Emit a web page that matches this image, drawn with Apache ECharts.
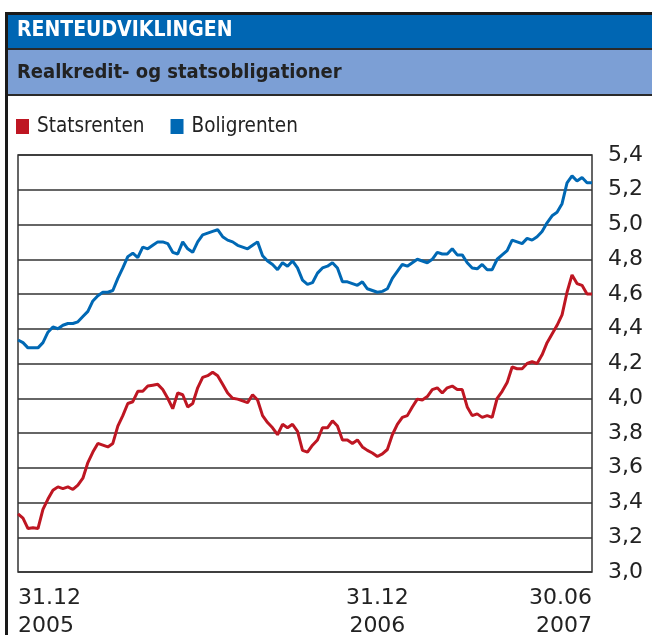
<!DOCTYPE html>
<html>
<head>
<meta charset="utf-8">
<script src="https://cdn.jsdelivr.net/npm/echarts@6/dist/echarts.min.js"></script>
<style>
  html, body { margin: 0; padding: 0; background: #fff; }
  #chart { width: 652px; height: 635px; }
</style>
</head>
<body>
<div id="chart"></div>
<script>
  // ── data (about one point per week) ──────────────────────────────
  const TITLE = 'RENTEUDVIKLINGEN';
  const SUBTITLE = 'Realkredit- og statsobligationer';
  const SERIES_NAMES = ['Statsrenten', 'Boligrenten'];

  const statsrenten = [
    3.335, 3.31, 3.25, 3.255, 3.25, 3.36, 3.42, 3.47, 3.49, 3.48,
    3.49, 3.475, 3.50, 3.54, 3.63, 3.69, 3.74, 3.73, 3.72, 3.74,
    3.84, 3.90, 3.97, 3.98, 4.04, 4.04, 4.07, 4.075, 4.08, 4.05,
    4.00, 3.94, 4.03, 4.02, 3.95, 3.97, 4.06, 4.12, 4.13, 4.15,
    4.13, 4.08, 4.03, 4.00, 3.995, 3.985, 3.975, 4.02, 3.99, 3.90,
    3.86, 3.83, 3.79, 3.85, 3.83, 3.85, 3.81, 3.70, 3.69,
    3.73, 3.76, 3.83, 3.83, 3.87, 3.84, 3.76, 3.76, 3.74, 3.76,
    3.72, 3.70, 3.685, 3.665, 3.68, 3.705, 3.79, 3.85, 3.89, 3.90,
    3.95, 3.995, 3.99, 4.01, 4.05, 4.06, 4.03, 4.06, 4.07,
    4.05, 4.05, 3.95, 3.90, 3.91, 3.89, 3.90, 3.89, 4.00, 4.04,
    4.09, 4.18, 4.17, 4.17, 4.20, 4.21, 4.20, 4.25, 4.32, 4.37,
    4.42, 4.48, 4.61, 4.71, 4.66, 4.65, 4.60, 4.60
  ];

  const boligrenten = [
    4.335, 4.32, 4.29, 4.29, 4.29, 4.32, 4.38, 4.41, 4.40, 4.42,
    4.43, 4.43, 4.44, 4.47, 4.50, 4.56, 4.59, 4.61, 4.61, 4.62,
    4.69, 4.75, 4.815, 4.835, 4.81, 4.87, 4.86, 4.88, 4.90, 4.90,
    4.89, 4.84, 4.83, 4.90, 4.86, 4.84, 4.90, 4.94, 4.95, 4.96,
    4.97, 4.93, 4.91, 4.90, 4.88, 4.87, 4.86, 4.88, 4.90, 4.82,
    4.79, 4.77, 4.74, 4.78, 4.76, 4.79, 4.75, 4.68, 4.655,
    4.665, 4.72, 4.75, 4.76, 4.78, 4.75, 4.67, 4.67, 4.66, 4.65,
    4.67, 4.63, 4.62, 4.61, 4.615, 4.63, 4.69, 4.73, 4.77, 4.76,
    4.78, 4.80, 4.79, 4.78, 4.80, 4.84, 4.83, 4.83, 4.86,
    4.825, 4.825, 4.78, 4.75, 4.745, 4.77, 4.74, 4.74, 4.80, 4.825,
    4.85, 4.91, 4.90, 4.89, 4.92, 4.91, 4.93, 4.96, 5.01, 5.05,
    5.07, 5.12, 5.24, 5.28, 5.25, 5.27, 5.24, 5.24
  ];

  const categories = statsrenten.map((_, i) => i);
  const X_TICK_IDX = [0, 72, 115];
  const X_TICK_TEXT = ['31.12\n2005', '31.12\n2006', '30.06\n2007'];

  const Y_MIN = 3.0, Y_MAX = 5.4, Y_STEP = 0.2;

  const RED = '#BE1622';
  const BLUE = '#0068B4';
  const INK = '#222';
  const NUM_FONT = 'DejaVu Sans';
  const TXT_FONT = "'DejaVu Sans Condensed', 'Liberation Sans', sans-serif";

  const chart = echarts.init(document.getElementById('chart'), null, { renderer: 'canvas' });

  chart.setOption({
    backgroundColor: '#fff',
    animation: false,
    graphic: [
      // header bars + frame
      { type: 'rect', shape: { x: 8, y: 15, width: 660, height: 33 }, style: { fill: '#0066B3' }, silent: true },
      { type: 'rect', shape: { x: 8, y: 50, width: 660, height: 44 }, style: { fill: '#7C9FD5' }, silent: true },
      { type: 'line', shape: { x1: 8, y1: 49, x2: 660, y2: 49 }, style: { stroke: '#2a2a2a', lineWidth: 2 }, silent: true },
      { type: 'line', shape: { x1: 8, y1: 95, x2: 660, y2: 95 }, style: { stroke: '#2a2a2a', lineWidth: 2 }, silent: true },
      { type: 'rect', shape: { x: 6.5, y: 13.5, width: 700, height: 700 }, style: { fill: 'none', stroke: '#1a1a1a', lineWidth: 3 }, silent: true },
      {
        type: 'text', x: 17, y: 31,
        style: { text: TITLE, fill: '#fff', font: `bold 21px ${TXT_FONT}`, verticalAlign: 'middle' }
      },
      {
        type: 'text', x: 17, y: 73,
        style: { text: SUBTITLE, fill: INK, font: `bold 20px ${TXT_FONT}`, verticalAlign: 'middle' }
      }
    ],
    legend: {
      left: 11, top: 111,
      icon: 'rect', itemWidth: 13, itemHeight: 15, itemGap: 26,
      textStyle: { color: INK, fontFamily: TXT_FONT, fontSize: 20.5, padding: [0, 0, 0, 3] },
      data: SERIES_NAMES
    },
    grid: {
      left: 18, right: 60, top: 155, bottom: 63,
      show: true, borderColor: '#333', borderWidth: 1.5,
      containLabel: false, outerBoundsMode: 'none'
    },
    xAxis: {
      type: 'category', data: categories, boundaryGap: false,
      axisLine: { show: false }, axisTick: { show: false }, splitLine: { show: false },
      axisLabel: {
        interval: (i) => X_TICK_IDX.includes(i),
        formatter: (v) => X_TICK_TEXT[X_TICK_IDX.indexOf(+v)] || '',
        color: INK, fontFamily: NUM_FONT, fontSize: 22, lineHeight: 28,
        margin: 12, alignMinLabel: 'left', alignMaxLabel: 'right'
      }
    },
    yAxis: {
      type: 'value', position: 'right', min: Y_MIN, max: Y_MAX, interval: Y_STEP,
      axisLine: { show: false }, axisTick: { show: false },
      splitLine: { lineStyle: { color: '#333', width: 1.5 } },
      axisLabel: {
        margin: 16, color: INK, fontFamily: NUM_FONT, fontSize: 22,
        formatter: v => v.toFixed(1).replace('.', ',')
      }
    },
    series: [
      {
        name: SERIES_NAMES[0], type: 'line', data: statsrenten, symbol: 'none',
        color: RED, lineStyle: { color: RED, width: 3 }, z: 3
      },
      {
        name: SERIES_NAMES[1], type: 'line', data: boligrenten, symbol: 'none',
        color: BLUE, lineStyle: { color: BLUE, width: 3 }, z: 3
      }
    ]
  });
</script>
</body>
</html>
